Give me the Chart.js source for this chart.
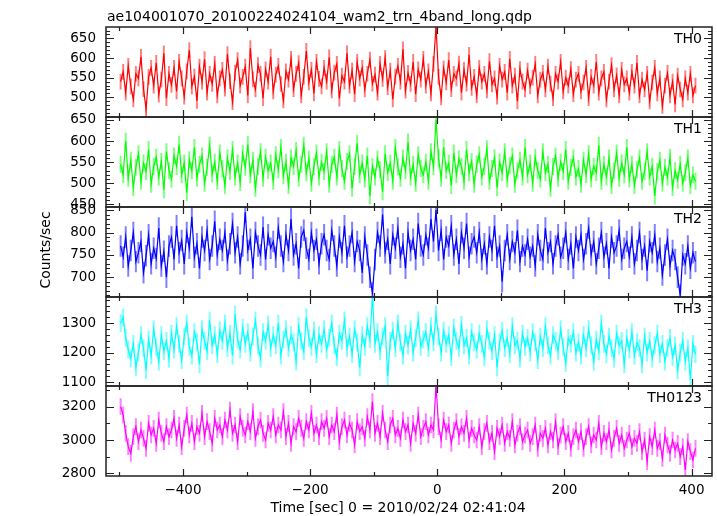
<!DOCTYPE html>
<html>
<head>
<meta charset="utf-8">
<script src="https://cdn.jsdelivr.net/npm/chart.js@4.4.0/dist/chart.umd.min.js"></script>
<style>
  html, body { margin: 0; padding: 0; background: #fff; }
  #wrap { position: relative; width: 717px; height: 516px; }
  #wrap canvas { position: absolute; left: 0; top: 0; }
</style>
</head>
<body>
<div id="wrap">
  <canvas id="p0" width="717" height="516"></canvas>
  <canvas id="p1" width="717" height="516"></canvas>
  <canvas id="p2" width="717" height="516"></canvas>
  <canvas id="p3" width="717" height="516"></canvas>
  <canvas id="p4" width="717" height="516"></canvas>
</div>
<script>
// light curve bins: start time [sec] and bin width
const binStart = -498;
const binWidth = 4;

const th0 = [
  540, 565, 512, 580, 528, 495, 560, 548, 603, 521, 470, 552, 575, 530, 588, 507, 545, 612, 498, 560,
  532, 575, 515, 590, 548, 502, 566, 620, 528, 553, 491, 578, 540, 597, 512, 560, 534, 585, 505, 548,
  570, 522, 610, 541, 488, 563, 595, 530, 552, 578, 505, 625, 546, 520, 582, 560, 498, 571, 540, 603,
  515, 558, 580, 534, 492, 566, 545, 598, 521, 560, 587, 505, 552, 618, 538, 570, 510, 590, 547, 528,
  575, 540, 602, 518, 563, 585, 497, 555, 540, 612, 530, 568, 508, 590, 548, 575, 520, 560, 596, 535,
  558, 512, 585, 547, 600, 526, 568, 495, 553, 580, 540, 622, 517, 562, 534, 590, 508, 571, 545, 598,
  530, 566, 510, 585, 680, 552, 500, 574, 538, 595, 521, 560, 548, 586, 512, 570, 535, 608, 524, 552,
  505, 575, 540, 560, 518, 592, 533, 548, 502, 580, 545, 565, 512, 598, 530, 555, 490, 572, 540, 520,
  568, 528, 550, 585, 505, 545, 562, 520, 578, 535, 498, 560, 540, 590, 515, 550, 530, 572, 508, 545,
  560, 515, 538, 575, 498, 552, 530, 590, 512, 548, 565, 495, 540, 582, 520, 556, 505, 570, 533, 548,
  512, 565, 530, 588, 505, 545, 520, 560, 490, 538, 575, 510, 548, 478, 530, 562, 505, 540, 482, 555,
  520, 495, 548, 512, 560, 505, 530
];

const th1 = [
  545, 520, 600, 512, 555, 490, 538, 570, 505, 548, 528, 580, 498, 540, 562, 515, 552, 485, 575, 530,
  510, 565, 540, 592, 520, 548, 478, 556, 530, 585, 512, 545, 565, 500, 538, 590, 522, 550, 505, 572,
  535, 495, 560, 528, 580, 515, 548, 502, 570, 538, 592, 520, 555, 488, 540, 575, 512, 562, 530, 548,
  505, 568, 532, 585, 518, 550, 495, 560, 540, 578, 512, 545, 590, 525, 558, 500, 540, 572, 515, 550,
  528, 575, 498, 545, 562, 515, 580, 535, 505, 552, 570, 488, 540, 595, 520, 548, 510, 565, 470, 540,
  515, 558, 532, 480, 570, 525, 548, 505, 585, 540, 512, 560, 530, 598, 515, 545, 500, 568, 535, 520,
  550, 505, 575, 540, 650, 560, 512, 585, 530, 548, 495, 572, 520, 558, 540, 505, 580, 525, 552, 498,
  545, 568, 515, 540, 582, 505, 535, 560, 490, 550, 525, 575, 510, 542, 565, 498, 530, 555, 515, 585,
  520, 548, 500, 562, 530, 510, 575, 525, 545, 488, 540, 565, 512, 550, 528, 580, 505, 538, 560, 515,
  535, 498, 555, 520, 570, 510, 540, 525, 590, 505, 545, 515, 560, 495, 530, 572, 512, 548, 520, 585,
  510, 545, 495, 532, 560, 505, 528, 575, 515, 540, 470, 528, 555, 500, 538, 515, 562, 490, 530, 508,
  545, 500, 525, 560, 495, 520, 505
];

const th2 = [
  770, 745, 790, 725, 760, 800, 735, 755, 780, 710, 748, 795, 730, 765, 742, 810, 725, 758, 700, 770,
  790, 740, 815, 755, 782, 730, 800, 765, 835, 745, 775, 720, 790, 760, 805, 740, 770, 825, 750, 785,
  760, 800, 738, 775, 820, 755, 790, 730, 770, 845, 760, 785, 720, 800, 770, 750, 812, 740, 795, 765,
  780, 745, 810, 770, 735, 795, 760, 830, 750, 775, 720, 790, 805, 765, 740, 800, 760, 785, 730, 775,
  795, 760, 740, 805, 770, 725, 790, 755, 815, 745, 770, 800, 735, 780, 760, 710, 790, 750, 700, 665,
  740, 800, 770, 840, 755, 785, 730, 795, 765, 810, 745, 775, 720, 800, 760, 785, 740, 820, 770, 750,
  795, 765, 830, 780, 850, 760, 805, 740, 790, 770, 815, 750, 785, 730, 800, 765, 820, 745, 775, 790,
  755, 800, 740, 775, 730, 790, 760, 815, 745, 770, 690, 760, 795, 740, 780, 755, 805, 735, 770, 750,
  785, 745, 770, 725, 795, 760, 740, 810, 755, 780, 730, 770, 795, 745, 765, 800, 740, 775, 720, 790,
  760, 795, 740, 775, 810, 750, 780, 730, 765, 800, 745, 775, 720, 790, 755, 770, 805, 740, 765, 780,
  745, 790, 730, 760, 800, 740, 770, 715, 780, 755, 795, 735, 765, 705, 750, 785, 725, 760, 740, 700,
  660, 750, 730, 770, 720, 755, 735
];

const th3 = [
  1300, 1320, 1250, 1210, 1180, 1230, 1150, 1200, 1260, 1215, 1140, 1245, 1190, 1280, 1220, 1170, 1260, 1205, 1240, 1180,
  1265, 1210, 1290, 1230, 1175, 1255, 1300, 1220, 1190, 1270, 1235, 1160, 1280, 1240, 1205, 1310, 1225, 1260, 1195, 1275,
  1240, 1300, 1215, 1265, 1190, 1330, 1245, 1210, 1285, 1230, 1270, 1200, 1255, 1310, 1225, 1180, 1270, 1240, 1295, 1215,
  1260, 1225, 1300, 1190, 1245, 1280, 1215, 1260, 1235, 1170, 1290, 1240, 1205, 1320, 1250, 1220, 1275, 1195, 1260, 1230,
  1280, 1210, 1250, 1300, 1225, 1185, 1265, 1240, 1310, 1215, 1255, 1195, 1280, 1235, 1150, 1260, 1220, 1290, 1245, 1390,
  1230, 1270, 1205, 1255, 1290, 1120, 1240, 1275, 1215, 1300, 1235, 1190, 1265, 1225, 1280, 1200, 1250, 1310, 1220, 1245,
  1270, 1215, 1290, 1235, 1330, 1255, 1200, 1275, 1230, 1260, 1185, 1285, 1240, 1215, 1295, 1225, 1250, 1190, 1270, 1235,
  1210, 1265, 1230, 1185, 1280, 1240, 1205, 1260, 1150, 1235, 1275, 1215, 1250, 1195, 1290, 1225, 1240, 1180, 1265, 1220,
  1250, 1200, 1270, 1235, 1175, 1255, 1215, 1290, 1225, 1190, 1260, 1240, 1205, 1280, 1220, 1165, 1250, 1230, 1270, 1200,
  1235, 1190, 1260, 1215, 1280, 1225, 1170, 1245, 1205, 1300, 1230, 1195, 1255, 1215, 1180, 1265, 1225, 1240, 1160, 1250,
  1210, 1270, 1190, 1235, 1215, 1160, 1255, 1200, 1240, 1180, 1225, 1265, 1195, 1230, 1170, 1215, 1250, 1185, 1225, 1140,
  1200, 1240, 1170, 1215, 1110, 1230, 1195
];

const th0123 = [
  3200, 3150, 3040, 2960, 2920, 3020, 3080, 2990, 3060, 3010, 2950, 3100, 3030, 3070, 2980, 3120, 3040, 2990, 3080, 3020,
  3060, 3130, 3010, 3090, 2960, 3070, 3150, 3030, 3100, 2990, 3080, 3040, 3160, 3020, 3110, 3050, 2980, 3130, 3060, 3090,
  3020, 3120, 3060, 3180, 3040, 3090, 2990, 3140, 3070, 3030, 3110, 3050, 3170, 3010, 3080, 3120, 3040, 3000, 3100, 3060,
  3140, 3030, 3090, 3060, 3170, 3020, 3100, 2980, 3080, 3050, 3130, 3070, 3010, 3110, 3060, 3160, 3040, 3090, 3020, 3110,
  3070, 3130, 3020, 3090, 3050, 3150, 2990, 3080, 3120, 3030, 3100, 3060, 2970, 3110, 3050, 3080, 3010, 3140, 3060, 3230,
  3040, 3100, 3020, 3160, 3060, 2990, 3090, 3130, 3030, 3070, 3010, 3120, 3050, 3090, 2980, 3100, 3040, 3150, 3020, 3070,
  3110, 3030, 3090, 3060, 3330, 3080, 3000, 3120, 3050, 3090, 2980, 3060, 3110, 3020, 3080, 3040, 3130, 3000, 3070, 3030,
  3000, 3080, 2960, 3050, 3100, 2990, 3040, 2930, 3070, 3020, 3090, 2980, 3050, 3010, 3110, 2970, 3040, 3080, 2990, 3030,
  3060, 2980, 3020, 3090, 2950, 3040, 3010, 3070, 2970, 3050, 3000, 3110, 2960, 3030, 3080, 2990, 3040, 2950, 3020, 3060,
  2990, 3050, 2950, 3020, 3080, 2970, 3030, 3000, 3100, 2960, 3040, 2990, 3060, 2940, 3010, 3070, 2980, 3030, 2950, 3000,
  3040, 2960, 3010, 2980, 3050, 2930, 3000, 2870, 3020, 2960, 3060, 2950, 2990, 2890, 3030, 2970, 2920, 3000, 2940, 2980,
  2900, 2960, 2820, 2990, 2930, 2880, 2950
];

const panelSeries = [th0, th1, th2, th3, th0123];
const panelNames = ['TH0', 'TH1', 'TH2', 'TH3', 'TH0123'];
const panelColors = ['#ff0000', '#00ff00', '#0000ff', '#00ffff', '#ff00ff'];
const errColors = ['rgba(255,0,0,0.5)', 'rgba(0,255,0,0.5)', 'rgba(0,0,255,0.5)', 'rgba(0,255,255,0.5)', 'rgba(255,0,255,0.5)'];
const panelErrors = [20, 20, 24, 30, 50];
const panelRanges = [[450, 679], [444, 657], [656, 857], [1087, 1389], [2784, 3324]];
const yTickLabels = [
  [500, 550, 600, 650],
  [450, 500, 550, 600, 650],
  [700, 750, 800, 850],
  [1100, 1200, 1300],
  [2800, 3000, 3200]
];
const yMinorSteps = [10, 10, 10, 20, 100];
const xTickLabels = [-400, -200, 0, 200, 400];
const xMinorTicks = [-500, -300, -100, 100, 300];
const xRange = [-521, 432];

const titleText = 'ae104001070_20100224024104_wam2_trn_4band_long.qdp';
const xTitle = 'Time [sec] 0 = 2010/02/24 02:41:04';
const yTitle = 'Counts/sec';

const panelEdges = [27, 117, 207, 297, 386, 476];
const FONT = '"DejaVu Sans", sans-serif';

function fmt(v) {
  return v < 0 ? '\u2212' + Math.abs(v) : String(v);
}

function makePlugin(idx) {
  return {
    id: 'qdpPanel' + idx,
    beforeDatasetsDraw(chart) {
      const ctx = chart.ctx, a = chart.chartArea;
      const xs = chart.scales.x, ys = chart.scales.y;
      const err = panelErrors[idx];
      ctx.save();
      ctx.beginPath();
      ctx.rect(a.left, a.top, a.right - a.left, a.bottom - a.top);
      ctx.clip();
      ctx.strokeStyle = errColors[idx];
      ctx.lineWidth = 2;
      ctx.beginPath();
      panelSeries[idx].forEach((v, i) => {
        const px = xs.getPixelForValue(binStart + i * binWidth);
        ctx.moveTo(px, ys.getPixelForValue(v - err));
        ctx.lineTo(px, ys.getPixelForValue(v + err));
      });
      ctx.stroke();
      ctx.restore();
    },
    afterDraw(chart) {
      const ctx = chart.ctx, a = chart.chartArea;
      const xs = chart.scales.x, ys = chart.scales.y;
      ctx.save();
      ctx.strokeStyle = '#222';
      ctx.lineWidth = 1.2;
      ctx.beginPath();
      // y ticks, both sides, inward
      const [lo, hi] = panelRanges[idx];
      const step = yMinorSteps[idx];
      for (let v = Math.ceil(lo / step) * step; v <= hi; v += step) {
        const y = Math.round(ys.getPixelForValue(v)) + 0.5;
        const len = yTickLabels[idx].includes(v) ? 8 : 4;
        ctx.moveTo(a.left, y); ctx.lineTo(a.left + len, y);
        ctx.moveTo(a.right, y); ctx.lineTo(a.right - len, y);
      }
      // x ticks, top and bottom, inward
      xTickLabels.concat(xMinorTicks).forEach(v => {
        const x = Math.round(xs.getPixelForValue(v)) + 0.5;
        const len = xTickLabels.includes(v) ? 7 : 4;
        ctx.moveTo(x, a.top); ctx.lineTo(x, a.top + len);
        ctx.moveTo(x, a.bottom); ctx.lineTo(x, a.bottom - len);
      });
      ctx.stroke();
      ctx.lineWidth = 1.5;
      ctx.strokeRect(a.left, a.top, a.right - a.left, a.bottom - a.top);

      ctx.fillStyle = '#000';
      ctx.font = '14px ' + FONT;
      ctx.textAlign = 'right';
      ctx.textBaseline = 'top';
      ctx.fillText(panelNames[idx], a.right - 10, a.top + 5);

      if (idx === 0) {
        ctx.textAlign = 'left';
        ctx.textBaseline = 'alphabetic';
        ctx.fillText(titleText, 107, 20.5);
      }
      if (idx === 2) {
        ctx.translate(46, 250);
        ctx.rotate(-Math.PI / 2);
        ctx.textAlign = 'center';
        ctx.textBaseline = 'middle';
        ctx.fillText(yTitle, 0, 0);
        ctx.setTransform(1, 0, 0, 1, 0, 0);
      }
      if (idx === 4) {
        ctx.textAlign = 'center';
        ctx.textBaseline = 'alphabetic';
        ctx.fillText(xTitle, 398, 511.5);
      }
      ctx.restore();
    }
  };
}

panelSeries.forEach((series, idx) => {
  const isBottom = idx === panelSeries.length - 1;
  const top = panelEdges[idx];
  const bottom = panelEdges[idx + 1];
  new Chart(document.getElementById('p' + idx), {
    type: 'line',
    data: {
      datasets: [{
        label: panelNames[idx],
        data: series.map((v, i) => ({ x: binStart + i * binWidth, y: v })),
        borderColor: panelColors[idx],
        borderWidth: 1.2,
        pointRadius: 0,
        tension: 0,
        fill: false
      }]
    },
    options: {
      responsive: false,
      animation: false,
      events: [],
      layout: {
        padding: { left: 30, right: 5, top: top, bottom: isBottom ? 0 : 516 - bottom }
      },
      plugins: { legend: { display: false }, tooltip: { enabled: false }, title: { display: false } },
      scales: {
        x: {
          type: 'linear',
          min: xRange[0],
          max: xRange[1],
          display: isBottom,
          grid: { display: false, drawTicks: false },
          border: { display: false },
          afterBuildTicks: s => { s.ticks = xTickLabels.map(v => ({ value: v })); },
          afterFit: s => { if (isBottom) s.height = 40; },
          ticks: {
            autoSkip: false,
            maxRotation: 0,
            padding: 6,
            color: '#000',
            font: { family: FONT, size: 13.5 },
            callback: v => fmt(v)
          }
        },
        y: {
          type: 'linear',
          position: 'left',
          min: panelRanges[idx][0],
          max: panelRanges[idx][1],
          grid: { display: false, drawTicks: false },
          border: { display: false },
          afterBuildTicks: s => { s.ticks = yTickLabels[idx].map(v => ({ value: v })); },
          afterFit: s => { s.width = 76; },
          ticks: {
            padding: 10,
            color: '#000',
            font: { family: FONT, size: 13.5 },
            callback: v => fmt(v)
          }
        }
      }
    },
    plugins: [makePlugin(idx)]
  });
});
</script>
</body>
</html>
